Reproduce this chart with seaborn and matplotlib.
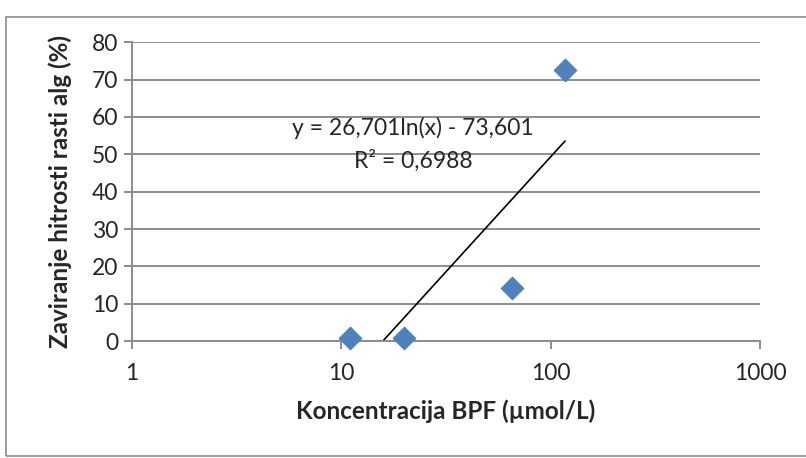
import numpy as np
import pandas as pd
import seaborn as sns
import matplotlib.pyplot as plt

# data
koncentracija = [11, 20, 65, 117]
zaviranje = [0.8, 0.8, 14.1, 72.6]
slope = 26.701
intercept = -73.601
r2_label = "0,6988"

df = pd.DataFrame({"Koncentracija": koncentracija, "Zaviranje": zaviranje})

sns.set_style("white")
plt.rcParams["font.family"] = ["Lato", "DejaVu Sans"]

fig = plt.figure(figsize=(8.06, 4.58), dpi=100)
ax = fig.add_axes([0.164, 0.255, 0.779, 0.653])

# outer chart border
fig.patches.append(plt.Rectangle((0.008, 0.005), 1.5, 0.958, transform=fig.transFigure,
                                 fill=False, edgecolor="#8c8c8c", linewidth=1.2))

ax.set_xscale("log")
ax.set_xlim(1, 1000)
ax.set_ylim(0, 80)
ax.set_yticks(range(0, 81, 10))
ax.set_xticks([1, 10, 100, 1000])
ax.set_xticklabels(["1", "10", "100", "1000"])
ax.minorticks_off()
ax.grid(axis="y", color="#8c8c8c", linewidth=1.4)
ax.set_axisbelow(True)

# logarithmic trend line, as in the original
xt = np.linspace(min(koncentracija), max(koncentracija), 400)
yt = slope * np.log(xt) + intercept
mask = yt >= 0
ax.plot(xt[mask], yt[mask], color="black", linewidth=1.2, zorder=2)

sns.scatterplot(data=df, x="Koncentracija", y="Zaviranje", marker="D", s=130,
                color="#4F81BD", edgecolor="#4F81BD", ax=ax, zorder=3, clip_on=False)

ax.text(22, 57, "y = 26,701ln(x) - 73,601", ha="center", va="center", fontsize=16.5)
ax.text(22, 48.2, "R² = " + r2_label, ha="center", va="center", fontsize=16.5)

for s in ["top", "right"]:
    ax.spines[s].set_visible(False)
for s in ["left", "bottom"]:
    ax.spines[s].set_color("#8c8c8c")
    ax.spines[s].set_linewidth(1.4)

ax.tick_params(axis="both", length=6, color="#8c8c8c", width=1.4, labelsize=16.5,
               direction="out", left=True, bottom=True, pad=4)
ax.tick_params(axis="x", pad=10)

ax.set_xlabel("Koncentracija BPF (µmol/L)", fontsize=17.5, fontweight="bold", labelpad=11)
ax.set_ylabel("Zaviranje hitrosti rasti alg (%)", fontsize=17.5, fontweight="bold", labelpad=14)

fig.savefig("out.png", dpi=100)
